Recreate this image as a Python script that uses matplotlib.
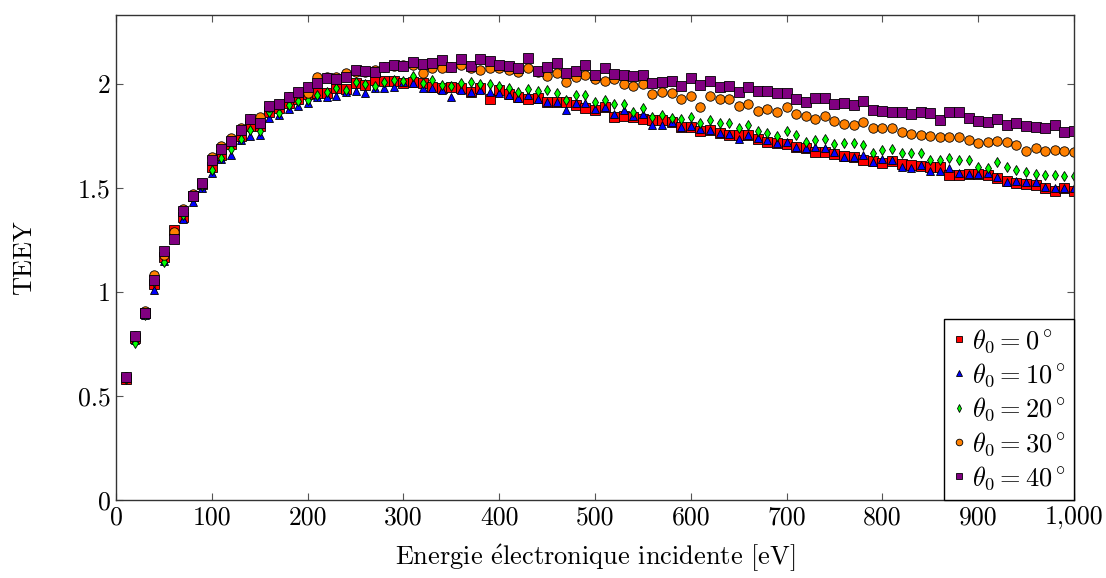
import numpy as np
import matplotlib.pyplot as plt

plt.rcParams['font.family'] = 'serif'
plt.rcParams['font.serif'] = ['cmr10']
plt.rcParams['mathtext.fontset'] = 'cm'
plt.rcParams['axes.formatter.use_mathtext'] = True

energy = list(range(10, 1001, 10))

teey_0 = [0.58, 0.78, 0.90, 1.04, 1.17, 1.30, 1.36, 1.46, 1.52, 1.60,
          1.66, 1.71, 1.75, 1.80, 1.80, 1.867, 1.883, 1.91, 1.93, 1.95,
          1.958, 1.958, 1.979, 1.974, 2.006, 1.995, 2.019, 2.016, 2.016, 2.006,
          2.011, 2.006, 1.987, 1.979, 1.987, 1.979, 1.963, 1.979, 1.93, 1.97,
          1.95, 1.94, 1.93, 1.931, 1.915, 1.915, 1.915, 1.899, 1.883, 1.875,
          1.891, 1.843, 1.846, 1.843, 1.832, 1.827, 1.827, 1.819, 1.792, 1.792,
          1.776, 1.779, 1.763, 1.755, 1.755, 1.755, 1.734, 1.723, 1.715, 1.712,
          1.699, 1.691, 1.675, 1.675, 1.662, 1.654, 1.651, 1.635, 1.63, 1.619,
          1.63, 1.615, 1.611, 1.606, 1.603, 1.60, 1.563, 1.563, 1.567, 1.567,
          1.563, 1.547, 1.535, 1.525, 1.519, 1.514, 1.498, 1.487, 1.498, 1.487]

teey_10 = [0.59, 0.77, 0.89, 1.01, 1.15, 1.27, 1.35, 1.434, 1.50, 1.57,
           1.64, 1.659, 1.73, 1.75, 1.755, 1.835, 1.85, 1.88, 1.894, 1.907,
           1.936, 1.939, 1.942, 1.963, 1.968, 1.955, 1.979, 1.979, 1.987, 2.011,
           2.003, 1.979, 1.979, 1.971, 1.939, 1.971, 1.960, 1.971, 1.963, 1.955,
           1.947, 1.931, 1.947, 1.93, 1.915, 1.915, 1.875, 1.907, 1.907, 1.878,
           1.888, 1.856, 1.875, 1.846, 1.856, 1.803, 1.803, 1.819, 1.792, 1.798,
           1.782, 1.779, 1.766, 1.758, 1.736, 1.755, 1.739, 1.731, 1.715, 1.723,
           1.699, 1.691, 1.699, 1.691, 1.675, 1.651, 1.651, 1.659, 1.625, 1.638,
           1.635, 1.603, 1.595, 1.611, 1.583, 1.583, 1.595, 1.574, 1.567, 1.567,
           1.571, 1.552, 1.530, 1.535, 1.530, 1.527, 1.506, 1.498, 1.502, 1.498]

teey_20 = [0.58, 0.756, 0.89, 1.05, 1.146, 1.28, 1.37, 1.46, 1.51, 1.587,
           1.643, 1.686, 1.734, 1.779, 1.776, 1.867, 1.862, 1.899, 1.918, 1.923,
           1.947, 1.963, 1.982, 1.971, 2.011, 1.998, 1.99, 2.011, 2.019, 2.016,
           2.038, 2.003, 2.019, 1.995, 1.990, 2.006, 2.011, 1.998, 1.998, 1.99,
           1.982, 1.963, 1.974, 1.968, 1.971, 1.955, 1.923, 1.947, 1.947, 1.915,
           1.923, 1.904, 1.904, 1.867, 1.883, 1.840, 1.851, 1.835, 1.830, 1.843,
           1.811, 1.827, 1.811, 1.814, 1.787, 1.803, 1.776, 1.763, 1.752, 1.776,
           1.755, 1.723, 1.731, 1.734, 1.710, 1.715, 1.715, 1.707, 1.667, 1.683,
           1.686, 1.67, 1.667, 1.667, 1.635, 1.635, 1.643, 1.635, 1.635, 1.60,
           1.595, 1.627, 1.60, 1.587, 1.579, 1.567, 1.563, 1.563, 1.559, 1.557]

teey_30 = [0.59, 0.79, 0.91, 1.08, 1.18, 1.29, 1.40, 1.47, 1.52, 1.65,
           1.70, 1.74, 1.79, 1.83, 1.843, 1.89, 1.90, 1.94, 1.955, 1.955,
           2.032, 2.035, 2.035, 2.054, 2.06, 2.06, 2.067, 2.08, 2.085, 2.091,
           2.09, 2.054, 2.075, 2.075, 2.083, 2.091, 2.075, 2.070, 2.075, 2.075,
           2.070, 2.059, 2.075, 2.059, 2.038, 2.051, 2.011, 2.032, 2.046, 2.022,
           2.016, 2.022, 2.000, 1.992, 2.000, 1.952, 1.963, 1.958, 1.926, 1.942,
           1.888, 1.942, 1.926, 1.926, 1.894, 1.902, 1.870, 1.878, 1.864, 1.891,
           1.856, 1.848, 1.832, 1.848, 1.822, 1.806, 1.803, 1.816, 1.787, 1.787,
           1.787, 1.771, 1.760, 1.755, 1.75, 1.747, 1.747, 1.747, 1.731, 1.718,
           1.723, 1.726, 1.723, 1.707, 1.678, 1.691, 1.678, 1.683, 1.678, 1.675]

teey_40 = [0.59, 0.79, 0.90, 1.058, 1.197, 1.255, 1.391, 1.462, 1.522, 1.635,
           1.686, 1.728, 1.779, 1.832, 1.811, 1.896, 1.902, 1.936, 1.960, 1.987,
           2.003, 2.027, 2.024, 2.035, 2.070, 2.064, 2.059, 2.083, 2.091, 2.086,
           2.107, 2.096, 2.103, 2.115, 2.083, 2.120, 2.086, 2.120, 2.112, 2.094,
           2.088, 2.075, 2.123, 2.064, 2.083, 2.103, 2.051, 2.064, 2.091, 2.043,
           2.075, 2.048, 2.043, 2.040, 2.043, 2.003, 2.011, 2.016, 1.992, 2.027,
           1.995, 2.016, 1.987, 1.992, 1.960, 1.987, 1.966, 1.966, 1.955, 1.955,
           1.926, 1.915, 1.931, 1.931, 1.904, 1.907, 1.899, 1.92, 1.875, 1.871,
           1.864, 1.867, 1.856, 1.867, 1.859, 1.827, 1.867, 1.864, 1.838, 1.824,
           1.816, 1.832, 1.803, 1.811, 1.80, 1.795, 1.787, 1.803, 1.771, 1.776]

series = [teey_0, teey_10, teey_20, teey_30, teey_40]
labels = [r'$\theta_0 = 0^\circ$', r'$\theta_0 = 10^\circ$', r'$\theta_0 = 20^\circ$',
          r'$\theta_0 = 30^\circ$', r'$\theta_0 = 40^\circ$']
colors = ['#ff0000', '#0000ff', '#00ff00', '#ff8000', '#800080']
markers = ['s', '^', 'd', 'o', 's']
sizes = [6.5, 6.0, 5.3, 6.8, 6.8]

fig = plt.figure(figsize=(11.06, 5.78), dpi=100)
ax = fig.add_axes([0.105, 0.135, 0.866, 0.839])

for y, lab, c, m, s in zip(series, labels, colors, markers, sizes):
    ax.plot(energy, y, linestyle='none', marker=m, markersize=s,
            markerfacecolor=c, markeredgecolor='black', markeredgewidth=0.6,
            label=lab)

ax.set_xlim(0, 1000)
ax.set_ylim(0, 2.332)
ax.set_xticks(range(0, 1001, 100))
ax.set_xticklabels(['0', '100', '200', '300', '400', '500', '600', '700', '800', '900', '1,000'])
ax.set_yticks([0, 0.5, 1, 1.5, 2])
ax.set_yticklabels(['0', '0.5', '1', '1.5', '2'])
ax.tick_params(direction='in', top=True, right=True, length=5, width=0.8,
               color='#555555', labelsize=18.5, pad=4)
for sp in ax.spines.values():
    sp.set_linewidth(1.0)
    sp.set_color('#333333')

ax.set_xlabel(r'Energie $\acute{\mathrm{e}}$lectronique incidente [eV]', fontsize=19, labelpad=10)
ax.set_ylabel('TEEY', fontsize=19, labelpad=30)

leg = ax.legend(loc='lower right', fontsize=19, borderaxespad=0, fancybox=False,
                edgecolor='black', framealpha=1, markerscale=0.7, handlelength=0.5,
                handletextpad=0.25, borderpad=0.3, labelspacing=0.25)
leg.get_frame().set_linewidth(1.0)

plt.savefig('out.png', dpi=100)
